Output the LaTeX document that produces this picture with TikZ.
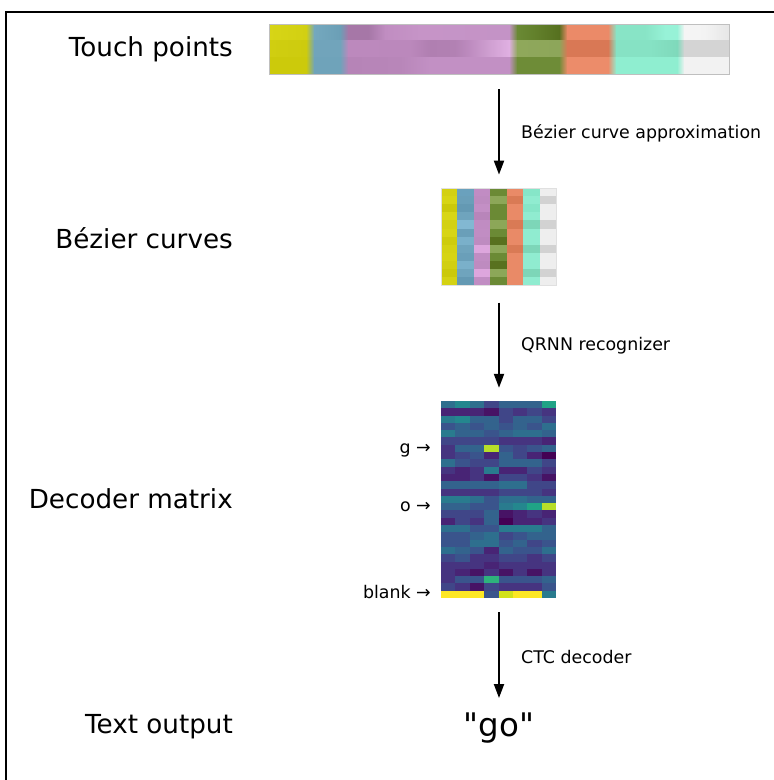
\documentclass[tikz,border=0pt]{standalone}
\usepackage{fontspec}
\setmainfont{DejaVu Sans}
\newfontfamily\gofont{DejaVu Sans}[Ligatures=TeXOff]
\usetikzlibrary{arrows.meta}
\definecolor{v00}{HTML}{440154}
\definecolor{v05}{HTML}{471365}
\definecolor{v10}{HTML}{482475}
\definecolor{v15}{HTML}{463480}
\definecolor{v20}{HTML}{404688}
\definecolor{v25}{HTML}{3A548C}
\definecolor{v30}{HTML}{33638D}
\definecolor{v35}{HTML}{2E6F8E}
\definecolor{v40}{HTML}{297B8E}
\definecolor{v45}{HTML}{24878E}
\definecolor{v50}{HTML}{20A386}
\definecolor{v60}{HTML}{2EB37C}
\definecolor{v80}{HTML}{B8DE29}
\definecolor{v85}{HTML}{D2E21B}
\definecolor{v90}{HTML}{FDE725}
\newcommand{\hexfill}[5]{%
  \edef\tmpdef{\noexpand\definecolor{tmpc}{HTML}{#1}}\tmpdef
  \fill[tmpc] ({#2},{#3}) rectangle ({#4},{#5});}
\newcommand{\hexshade}[6]{%
  \edef\tmpdef{\noexpand\definecolor{tmpa}{HTML}{#1}\noexpand\definecolor{tmpb}{HTML}{#2}}\tmpdef
  \shade[left color=tmpa, right color=tmpb] ({#3},{#4}) rectangle ({#5+0.4},{#6});}
\tikzset{
  biglbl/.style={font=\fontsize{26.2}{30}\selectfont, anchor=base east, inner sep=0pt},
  smalllbl/.style={font=\fontsize{17.4}{20}\selectfont, anchor=base west, inner sep=0pt},
  rowlbl/.style={font=\fontsize{17.4}{20}\selectfont, anchor=base east, inner sep=0pt},
  blk/.style={draw=black!25, line width=0.8pt, inner sep=0pt},
  arr/.style={line width=2pt, -{Triangle[width=10pt,length=14pt]}},
}
\begin{document}
\begin{tikzpicture}[x=1pt,y=-1pt]
\useasboundingbox (0,0) rectangle (774,780);
\fill[white] (0,0) rectangle (774,780);
% frame
\draw[line width=2pt, line join=miter] (6,781) -- (6,12) -- (775,12);

% ---------- touch points bar ----------
\foreach \xa/\xb/\ca/\cb in {269/306/D7D516/D2D012, 306/314/D2D012/74A8BE, 314/340/74A8BE/6B9FB6,
  340/348/6B9FB6/A677A7, 348/368/A677A7/A677A7, 368/385/A677A7/C08DC1, 385/420/C08DC1/C694C7,
  420/509/C694C7/C493C6, 509/517/C493C6/6A8934, 517/535/6A8934/62802B, 535/559/62802B/56701F,
  559/567/56701F/EB8A68, 567/608/EB8A68/EB8A68, 608/616/EB8A68/88E4C6, 616/645/88E4C6/88E4C6,
  645/665/88E4C6/97F2D7, 665/677/97F2D7/97F2D7, 677/684/97F2D7/F5F5F5, 684/705/F5F5F5/F3F3F3,
  705/728.6/F3F3F3/E6E6E6}
  {\hexshade{\ca}{\cb}{\xa}{24}{\xb}{40.9}}
\foreach \xa/\xb/\ca/\cb in {269/306/D0CE10/CDCB0E, 306/314/CDCB0E/71A4BB, 314/340/71A4BB/71A4BB,
  340/348/71A4BB/BC89BD, 348/410/BC89BD/BB88BC, 410/430/BB88BC/B07FB1, 430/455/B07FB1/B281B3,
  455/470/B281B3/BE8CC0, 470/490/BE8CC0/D0A0D2, 490/509/D0A0D2/E0B0E2, 509/517/E0B0E2/8FA85B,
  517/559/8FA85B/8DA65A, 559/567/8DA65A/D97855, 567/608/D97855/D97855, 608/616/D97855/86E2C4,
  616/650/86E2C4/86E2C4, 650/677/86E2C4/7FD9BB, 677/684/7FD9BB/D4D4D4, 684/728.6/D4D4D4/D4D4D4}
  {\hexshade{\ca}{\cb}{\xa}{40.7}{\xb}{57.5}}
\foreach \xa/\xb/\ca/\cb in {269/306/CCCA0B/CCCA0B, 306/314/CCCA0B/6FA3BA, 314/340/6FA3BA/6FA3BA,
  340/348/6FA3BA/B684B7, 348/400/B684B7/B886B9, 400/430/B886B9/C290C4, 430/509/C290C4/C290C4,
  509/517/C290C4/6E8C37, 517/559/6E8C37/6E8C37, 559/567/6E8C37/EC8C6A, 567/608/EC8C6A/EC8C6A,
  608/616/EC8C6A/8FEED0, 616/677/8FEED0/8FEED0, 677/684/8FEED0/F2F2F2, 684/728.6/F2F2F2/F2F2F2}
  {\hexshade{\ca}{\cb}{\xa}{57.3}{\xb}{74}}
\node[blk, minimum width=460pt, minimum height=50pt] (touch) at (499,49) {};

% ---------- Bezier curves block ----------
\foreach \row [count=\r from 0] in {
  {D3D013,6AA1BD,C18CC3,6B8A35,E98A67,86E6C8,EEEEEE},
  {D7D515,6A9FB9,BE8BC0,8CA758,D97A55,90ECD0,D2D2D2},
  {CBC90A,6499B3,C38FC5,6B8A35,E98A67,86E6C8,EEEEEE},
  {D8D616,6FA4BD,B885BA,6B8A35,E98A67,90ECD0,EEEEEE},
  {D3D112,82B8D2,C08CC2,8CA758,D97A55,7DD6B8,D2D2D2},
  {D7D515,6A9FB9,C18DC3,6B8A35,E98A67,90ECD0,EEEEEE},
  {CECC0D,7AB0CA,BE8BC0,58711F,E98A67,90ECD0,EEEEEE},
  {D4D213,6FA4BD,DDA6DD,8CA758,D97A55,7DD6B8,D2D2D2},
  {D6D414,6A9FB9,C18DC3,6B8A35,E98A67,90ECD0,EEEEEE},
  {D1CF11,7AB0CA,BE8BC0,58711F,E98A67,90ECD0,EEEEEE},
  {CBC90A,6FA4BD,DDA6DD,8CA758,E98A67,7DD6B8,D2D2D2},
  {D4D213,6499B3,C18DC3,6B8A35,E98A67,90ECD0,EEEEEE}}
{
  \foreach \h [count=\c from 0] in \row {
    \hexfill{\h}{441+16.43*\c}{188+8.1*\r}{441+16.43*(\c+1)}{188+8.1*(\r+1)}
  }
}
\node[blk, draw=black!12, minimum width=115pt, minimum height=97.2pt] (bez) at (498.5,236.6) {};

% ---------- decoder matrix ----------
\foreach \row [count=\r from 0] in {
  {35,45,35,20,30,30,30,50},
  {10,10,10,05,20,15,20,15},
  {40,45,30,30,20,30,30,20},
  {25,30,25,30,25,30,25,35},
  {40,30,30,25,30,35,35,30},
  {20,20,20,20,15,15,15,10},
  {15,30,30,80,25,20,25,30},
  {15,20,25,10,30,20,10,00},
  {35,25,20,20,30,30,30,20},
  {15,10,15,40,10,10,20,15},
  {10,10,15,05,20,20,15,05},
  {30,30,30,30,35,35,20,20},
  {15,15,15,15,20,20,20,15},
  {40,40,35,25,35,35,30,30},
  {30,30,25,25,40,45,50,80},
  {20,20,20,30,05,10,15,10},
  {10,20,15,30,00,10,10,15},
  {35,35,25,25,40,40,40,30},
  {25,25,30,35,20,25,30,30},
  {25,25,35,35,25,30,20,25},
  {35,30,25,10,30,25,25,35},
  {20,25,15,15,20,20,15,20},
  {15,15,15,10,15,15,15,15},
  {15,10,05,15,05,15,05,15},
  {15,25,25,60,25,25,25,30},
  {20,15,05,20,15,15,15,25},
  {90,90,90,25,85,90,90,40}}
{
  \foreach \v [count=\c from 0] in \row {
    \fill[v\v] ({441+14.375*\c},{401+7.296*\r}) rectangle ({441+14.375*(\c+1)+0.3},{401+7.296*(\r+1)+0.3});
  }
}
\node[inner sep=0pt, minimum width=115pt, minimum height=197pt] (dec) at (498.5,499.5) {};

% row labels
\node[rowlbl] (lg) at (431,453) {g →};
\node[rowlbl] (lo) at (431,511.5) {o →};
\node[rowlbl] (lb) at (431,598.8) {blank →};

% ---------- text output ----------
\node[font=\gofont\fontsize{32.5}{38}\selectfont, anchor=base, inner sep=0pt] (go) at (499,736) {"go"};
\coordinate (goin) at (499,698);

% ---------- stage labels ----------
\node[biglbl] (t1) at (233,56) {Touch points};
\node[biglbl] (t2) at (233,248) {Bézier curves};
\node[biglbl] (t3) at (233,508) {Decoder matrix};
\node[biglbl] (t4) at (233,733) {Text output};

% ---------- arrows ----------
\draw[arr] ([yshift=-15pt]touch.south -| 499,0) -- ([yshift=13pt]bez.north -| 499,0);
\draw[arr] ([yshift=-17pt]bez.south -| 499,0) -- ([yshift=13pt]dec.north -| 499,0);
\draw[arr] ([yshift=-14pt]dec.south -| 499,0) -- (goin);

\node[smalllbl] (s1) at (521,138) {Bézier curve approximation};
\node[smalllbl] (s2) at (521,350) {QRNN recognizer};
\node[smalllbl] (s3) at (521,663) {CTC decoder};
\end{tikzpicture}
\end{document}
